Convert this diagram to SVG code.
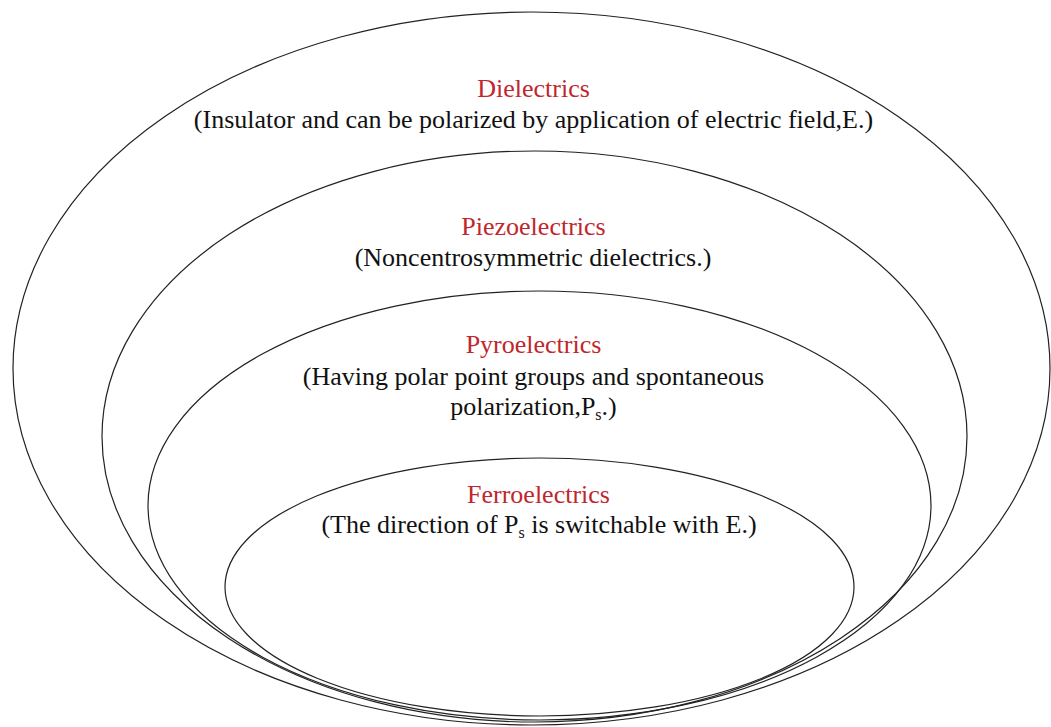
<svg xmlns="http://www.w3.org/2000/svg" width="1051" height="727" viewBox="0 0 1051 727">
<style>
.ring{fill:none;stroke:#222;stroke-width:1.2}
text{font-family:'Liberation Serif','DejaVu Serif',serif;font-size:26px;text-anchor:middle}
.h{fill:#c0272d}
.d{fill:#111}
.sub{font-size:16px}
</style>
<rect width="1051" height="727" fill="#fff"/>
<g id="dielectrics">
<ellipse class="ring" cx="531.5" cy="368.5" rx="518.5" ry="356.5"/>
<text class="h" x="533.5" y="97">Dielectrics</text>
<text class="d" x="533.5" y="128">(Insulator and can be polarized by application of electric field,E.)</text>
</g>
<g id="piezoelectrics">
<ellipse class="ring" cx="534.5" cy="436.5" rx="432.5" ry="285.5"/>
<text class="h" x="533.5" y="235">Piezoelectrics</text>
<text class="d" x="533" y="266">(Noncentrosymmetric dielectrics.)</text>
</g>
<g id="pyroelectrics">
<ellipse class="ring" cx="539.5" cy="505.5" rx="391.5" ry="214.5"/>
<text class="h" x="533.5" y="353">Pyroelectrics</text>
<text class="d" x="533.5" y="385">(Having polar point groups and spontaneous</text>
<text class="d" x="533.5" y="415">polarization,P<tspan class="sub" dy="5">s</tspan><tspan dy="-5">.)</tspan></text>
</g>
<g id="ferroelectrics">
<ellipse class="ring" cx="539.5" cy="587" rx="314.5" ry="129"/>
<text class="h" x="538.5" y="503">Ferroelectrics</text>
<text class="d" x="539" y="533">(The direction of P<tspan class="sub" dy="5">s</tspan><tspan dy="-5"> is switchable with E.)</tspan></text>
</g>
<g id="connectors"/>
</svg>
